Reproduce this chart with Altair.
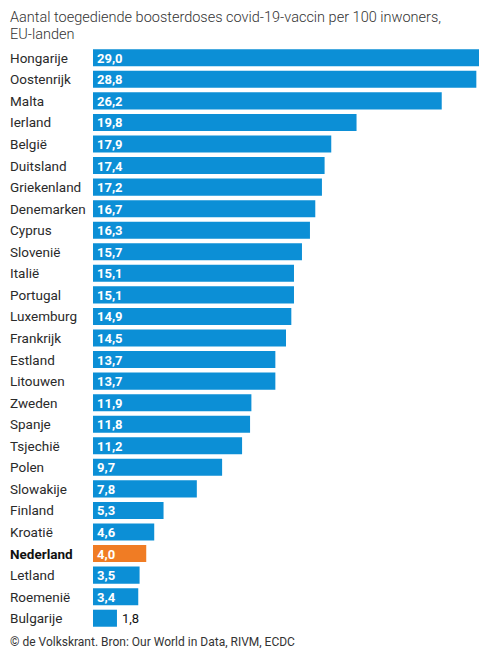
import altair as alt
import pandas as pd

countries = [
    "Hongarije", "Oostenrijk", "Malta", "Ierland", "België", "Duitsland",
    "Griekenland", "Denemarken", "Cyprus", "Slovenië", "Italië", "Portugal",
    "Luxemburg", "Frankrijk", "Estland", "Litouwen", "Zweden", "Spanje",
    "Tsjechië", "Polen", "Slowakije", "Finland", "Kroatië", "Nederland",
    "Letland", "Roemenië", "Bulgarije",
]
values = [
    29.0, 28.8, 26.2, 19.8, 17.9, 17.4, 17.2, 16.7, 16.3, 15.7, 15.1, 15.1,
    14.9, 14.5, 13.7, 13.7, 11.9, 11.8, 11.2, 9.7, 7.8, 5.3, 4.6, 4.0,
    3.5, 3.4, 1.8,
]
highlight = "Nederland"
title_lines = [
    "Aantal toegediende boosterdoses covid-19-vaccin per 100 inwoners,",
    "EU-landen",
]
footer = "© de Volkskrant. Bron: Our World in Data, RIVM, ECDC"

BLUE = "#0c8fd6"
ORANGE = "#f07c24"
FONT = "Roboto"

df = pd.DataFrame({"land": countries, "waarde": values})

W, H = 386, 582
y_enc = alt.Y(
    "land:N", sort=countries, axis=None,
    scale=alt.Scale(paddingInner=0.21, paddingOuter=0.105),
)
x_enc = alt.X("waarde:Q", axis=None, scale=alt.Scale(domain=[0, 29], nice=False))

base = alt.Chart(df).transform_calculate(
    label="replace(format(datum.waarde, '.1f'), '.', ',')"
)

bars = base.mark_bar().encode(
    x=x_enc,
    y=y_enc,
    color=alt.condition(
        alt.datum.land == highlight, alt.value(ORANGE), alt.value(BLUE)
    ),
)

inside = base.transform_filter("datum.waarde >= 3").mark_text(
    align="left", baseline="middle", dx=4, dy=1, font=FONT, fontSize=13,
    fontWeight="bold", color="white",
).encode(x=alt.value(0), y=y_enc, text="label:N")

outside = base.transform_filter("datum.waarde < 3").mark_text(
    align="left", baseline="middle", dx=5, dy=1, font=FONT, fontSize=13,
    color="#111",
).encode(x=x_enc, y=y_enc, text="label:N")

names = base.transform_filter(alt.datum.land != highlight).mark_text(
    align="left", baseline="middle", dy=1, font=FONT, fontSize=13.5,
    color="#2a2a2a",
).encode(x=alt.value(-83), y=y_enc, text="land:N")

names_hl = base.transform_filter(alt.datum.land == highlight).mark_text(
    align="left", baseline="middle", dy=1, font=FONT, fontSize=13.5,
    fontWeight="bold", color="#111",
).encode(x=alt.value(-83), y=y_enc, text="land:N")


def text_line(txt, y, size, weight="normal"):
    return alt.Chart(pd.DataFrame({"t": [txt]})).mark_text(
        align="left", baseline="alphabetic", font=FONT, fontSize=size,
        fontWeight=weight, color="#333",
    ).encode(x=alt.value(-83), y=alt.value(y), text="t:N")


title1 = text_line(title_lines[0], -25, 14.5, 300)
title2 = text_line(title_lines[1], -8.5, 14.5, 300)
foot = text_line(footer, H + 16.5, 12)

chart = (
    alt.layer(bars, inside, outside, names, names_hl, title1, title2, foot)
    .properties(
        width=W, height=H,
        autosize=alt.AutoSizeParams(type="none"),
        padding={"left": 85, "top": 39, "right": 5, "bottom": 19},
        background="white",
    )
    .configure_view(stroke=None)
)

chart.save("out.html", embed_options={"renderer": "svg", "actions": False})
